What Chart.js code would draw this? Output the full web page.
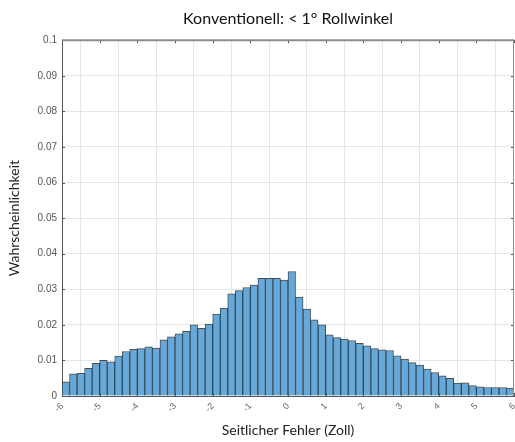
<!DOCTYPE html>
<html>
<head>
<meta charset="utf-8">
<script src="https://cdn.jsdelivr.net/npm/chart.js@4"></script>
<style>
html,body{margin:0;padding:0;background:#fff;}
#wrap{width:515px;height:442px;}
</style>
</head>
<body>
<div id="wrap"><canvas id="c" width="515" height="442"></canvas></div>
<script>
// Histogram: bin centers from -5.9 to 5.9 (bin width 0.2 inch)
const binStart = -6;
const binWidth = 0.2;
const probabilities = [
  0.0040, 0.0062, 0.0064, 0.0078, 0.0092, 0.0100, 0.0096, 0.0112, 0.0125, 0.0131,
  0.0133, 0.0138, 0.0135, 0.0158, 0.0166, 0.0175, 0.0182, 0.0200, 0.0190, 0.0202,
  0.0230, 0.0247, 0.0287, 0.0296, 0.0305, 0.0312, 0.0331, 0.0331, 0.0331, 0.0326,
  0.0350, 0.0278, 0.0244, 0.0214, 0.0200, 0.0172, 0.0164, 0.0160, 0.0156, 0.0148,
  0.0141, 0.0133, 0.0130, 0.0128, 0.0113, 0.0104, 0.0094, 0.0087, 0.0076, 0.0066,
  0.0057, 0.0050, 0.0036, 0.0037, 0.0029, 0.0026, 0.0024, 0.0024, 0.0024, 0.0022
];
const xTicks = [-6,-5,-4,-3,-2,-1,0,1,2,3,4,5,6];
const yTicks = [0,0.01,0.02,0.03,0.04,0.05,0.06,0.07,0.08,0.09,0.1];
const titleText = 'Konventionell: < 1° Rollwinkel';
const xTitle = 'Seitlicher Fehler (Zoll)';
const yTitle = 'Wahrscheinlichkeit';

const points = probabilities.map((p, i) => ({ x: binStart + binWidth * (i + 0.5), y: p }));

const boxPlugin = {
  id: 'box',
  afterDatasetsDraw(chart) {
    const { ctx, chartArea: a, scales } = chart;
    ctx.save();
    ctx.strokeStyle = '#555';
    ctx.lineWidth = 1;
    ctx.beginPath();
    xTicks.forEach(v => {
      const px = Math.round(scales.x.getPixelForValue(v)) + 0.5;
      ctx.moveTo(px, a.top); ctx.lineTo(px, a.top + 3);
      ctx.moveTo(px, a.bottom); ctx.lineTo(px, a.bottom - 3);
    });
    yTicks.forEach(v => {
      const py = Math.round(scales.y.getPixelForValue(v)) + 0.5;
      ctx.moveTo(a.left, py); ctx.lineTo(a.left + 3, py);
      ctx.moveTo(a.right, py); ctx.lineTo(a.right - 3, py);
    });
    ctx.stroke();
    ctx.strokeStyle = '#8c8c8c';
    ctx.lineWidth = 2;
    ctx.beginPath();
    ctx.moveTo(a.left, a.top); ctx.lineTo(a.right, a.top);
    ctx.stroke();
    ctx.lineWidth = 1;
    ctx.beginPath();
    ctx.moveTo(a.right - 0.5, a.top); ctx.lineTo(a.right - 0.5, a.bottom);
    ctx.stroke();
    ctx.restore();
  }
};

new Chart(document.getElementById('c'), {
  type: 'bar',
  data: {
    datasets: [{
      data: points,
      backgroundColor: 'rgb(98,169,221)',
      borderColor: 'rgba(45,45,45,0.85)',
      borderWidth: 1,
      barPercentage: 1,
      categoryPercentage: 1
    }]
  },
  options: {
    responsive: false,
    animation: false,
    devicePixelRatio: 1,
    layout: { padding: { left: 0, right: 1, top: 0, bottom: 0 } },
    plugins: {
      legend: { display: false },
      tooltip: { enabled: false },
      title: {
        display: true,
        text: titleText,
        fullSize: false,
        color: '#111',
        font: { family: 'Lato', size: 16, weight: 'normal' },
        padding: { top: 9, bottom: 12 }
      }
    },
    scales: {
      x: {
        type: 'linear',
        min: -6,
        max: 6,
        offset: false,
        afterBuildTicks(s) { s.ticks = xTicks.map(v => ({ value: v })); },
        afterFit(s) { s.height = 46; s.paddingLeft = 0; s.paddingRight = 0; },
        grid: { color: '#e6e6e6', drawTicks: false },
        border: { display: true, color: '#555', width: 1 },
        ticks: {
          color: '#666',
          font: { family: 'Liberation Sans', size: 9 },
          minRotation: 45,
          maxRotation: 45,
          padding: 5,
          callback: v => String(v)
        },
        title: {
          display: true,
          text: xTitle,
          color: '#222',
          font: { family: 'Lato', size: 14 },
          padding: { top: 0, bottom: 3 }
        }
      },
      y: {
        type: 'linear',
        min: 0,
        max: 0.1,
        afterBuildTicks(s) { s.ticks = yTicks.map(v => ({ value: v })); },
        afterFit(s) { s.width = 62; s.paddingTop = 0; s.paddingBottom = 0; },
        grid: { color: '#e6e6e6', drawTicks: false },
        border: { display: true, color: '#555', width: 1 },
        ticks: {
          color: '#555',
          font: { family: 'Liberation Sans', size: 10 },
          padding: 5,
          callback: v => String(+v.toFixed(2))
        },
        title: {
          display: true,
          text: yTitle,
          color: '#222',
          font: { family: 'Lato', size: 14 },
          padding: { top: 6, bottom: 0 }
        }
      }
    }
  },
  plugins: [boxPlugin]
});
</script>
</body>
</html>
